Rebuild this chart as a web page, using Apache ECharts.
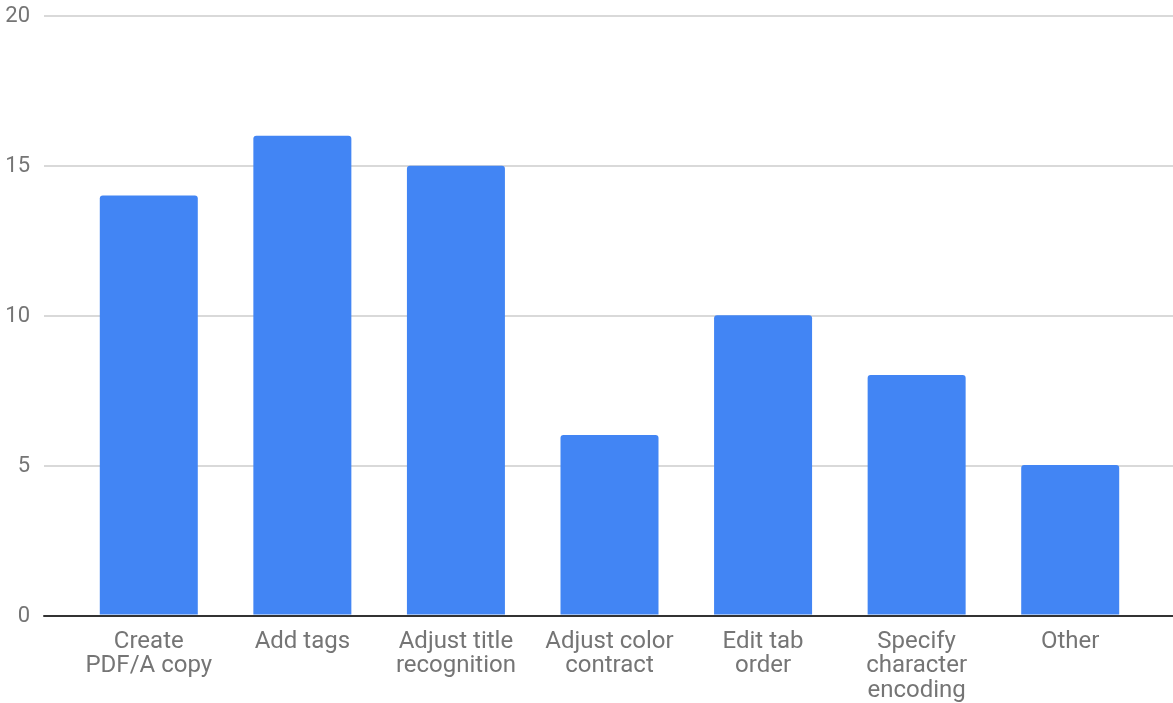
<!DOCTYPE html>
<html>
<head>
<meta charset="utf-8">
<script src="https://cdn.jsdelivr.net/npm/echarts@6/dist/echarts.min.js"></script>
<style>
html,body{margin:0;padding:0;background:#fff;}
#chart{width:1173px;height:703px;}
</style>
</head>
<body>
<div id="chart"></div>
<script>
var categories = ["Create\nPDF/A copy", "Add tags", "Adjust title\nrecognition", "Adjust color\ncontract", "Edit tab\norder", "Specify\ncharacter\nencoding", "Other"];
var values = [14, 16, 15, 6, 10, 8, 5];
var yTicks = {min: 0, max: 20, interval: 5};

var chart = echarts.init(document.getElementById('chart'), null, {renderer: 'canvas'});
var font = 'Roboto';
chart.setOption({
  animation: false,
  backgroundColor: '#ffffff',
  grid: [
    {left: 44, right: 0, top: 16, bottom: 87},
    {left: 72, right: 26, top: 16, bottom: 87}
  ],
  xAxis: [
    {
      gridIndex: 0, type: 'category', data: [''],
      axisLine: {show: true, lineStyle: {color: '#333333', width: 2}},
      axisTick: {show: false}, axisLabel: {show: false}, splitLine: {show: false}
    },
    {
      gridIndex: 1, type: 'category', data: categories,
      axisLine: {show: false}, axisTick: {show: false},
      axisLabel: {
        interval: 0, color: '#757575', fontFamily: font, fontSize: 24,
        lineHeight: 24.5, margin: 15
      }
    }
  ],
  yAxis: [
    {
      gridIndex: 0, type: 'value', min: yTicks.min, max: yTicks.max, interval: yTicks.interval,
      axisLine: {show: false}, axisTick: {show: false},
      axisLabel: {color: '#757575', fontFamily: font, fontSize: 22, margin: 14},
      splitLine: {show: true, lineStyle: {color: '#cccccc', width: 1.5}}
    },
    {
      gridIndex: 1, type: 'value', min: yTicks.min, max: yTicks.max, interval: yTicks.interval,
      show: false, splitLine: {show: false}
    }
  ],
  series: [{
    type: 'bar',
    xAxisIndex: 1, yAxisIndex: 1,
    data: values,
    barWidth: 98,
    itemStyle: {color: '#4285F4', borderRadius: [3, 3, 0, 0]}
  }]
});
</script>
</body>
</html>
